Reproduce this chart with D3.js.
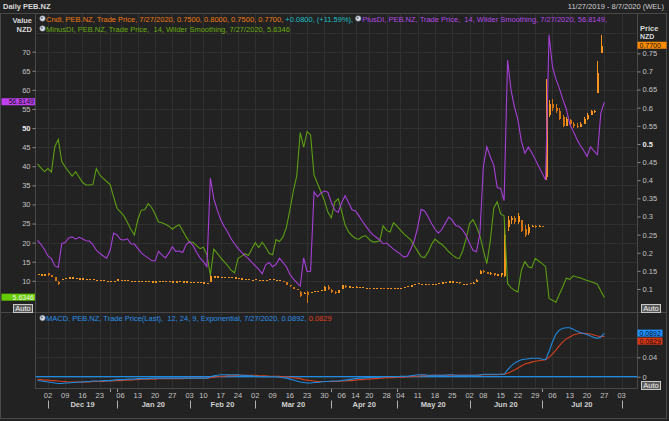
<!DOCTYPE html>
<html>
<head>
<meta charset="utf-8">
<script src="https://cdn.jsdelivr.net/npm/d3@7"></script>
<style>
  html, body { margin: 0; padding: 0; background: #222; }
  svg { display: block; font-family: "Liberation Sans", Arial, sans-serif; }
</style>
</head>
<body>
<svg id="chart" width="669" height="421"></svg>
<script>
// NZX trading calendar for the window shown
const firstDay = '2019-11-27'
const lastDay = '2020-08-07'
const holidays = ['2019-12-25', '2019-12-26', '2020-01-01', '2020-01-02', '2020-02-06',
  '2020-04-10', '2020-04-13', '2020-04-27', '2020-06-01']

const weekTicks = ['2019-12-02', '2019-12-09', '2019-12-16', '2019-12-23',
  '2020-01-06', '2020-01-13', '2020-01-20', '2020-01-27',
  '2020-02-03', '2020-02-10', '2020-02-17', '2020-02-24',
  '2020-03-02', '2020-03-09', '2020-03-16', '2020-03-23', '2020-03-30',
  '2020-04-06', '2020-04-14', '2020-04-20', '2020-04-28',
  '2020-05-04', '2020-05-11', '2020-05-18', '2020-05-25',
  '2020-06-02', '2020-06-08', '2020-06-15', '2020-06-22', '2020-06-29',
  '2020-07-06', '2020-07-13', '2020-07-20', '2020-07-27', '2020-08-03']
const unlabeledTicks = ['2019-12-30', '2020-01-03', '2020-04-01', '2020-05-01', '2020-07-01']
const monthStarts = ['2019-12-02', '2020-01-03', '2020-02-03', '2020-03-02', '2020-04-01',
  '2020-05-01', '2020-06-02', '2020-07-01', '2020-08-03']
const monthLabels = ['Dec 19', 'Jan 20', 'Feb 20', 'Mar 20', 'Apr 20', 'May 20', 'Jun 20', 'Jul 20']

const diTicks = [10, 15, 20, 25, 30, 35, 40, 45, 50, 55, 60, 65, 70]
const priceTicks = [0.1, 0.15, 0.2, 0.25, 0.3, 0.35, 0.4, 0.45, 0.5, 0.55, 0.6, 0.65, 0.7, 0.75]
const macdTicks = [0, 0.04, 0.08]
const macdLabelTicks = [0, 0.04]

// daily candles [open, high, low, close], one per trading day from 11/27/2019
const candles = [
  [.140, .142, .138, .141], [.140, .140, .140, .140], [.140, .141, .140, .140], [.145, .145, .137, .138], [.138, .139, .133, .134],
  [.133, .134, .122, .122], [.120, .122, .110, .114], [.126, .128, .126, .128], [.130, .130, .130, .130], [.132, .132, .132, .132],
  [.132, .132, .131, .132], [.131, .131, .131, .131], [.129, .129, .129, .129], [.129, .129, .128, .129], [.128, .128, .128, .128],
  [.128, .128, .127, .128], [.127, .127, .127, .127], [.125, .125, .125, .125], [.124, .124, .124, .124], [.124, .124, .123, .124],
  [.123, .123, .123, .123], [.123, .123, .123, .123], [.122, .122, .122, .122], [.122, .128, .122, .128], [.125, .125, .125, .125],
  [.124, .124, .124, .124], [.124, .124, .123, .124], [.123, .123, .123, .123], [.122, .122, .122, .122], [.122, .122, .121, .122],
  [.123, .123, .123, .123], [.122, .122, .122, .122], [.122, .122, .122, .122], [.121, .121, .121, .121], [.121, .122, .121, .121],
  [.122, .122, .122, .122], [.123, .123, .123, .123], [.122, .122, .122, .122], [.122, .122, .121, .122], [.121, .121, .121, .121],
  [.121, .121, .121, .121], [.122, .122, .122, .122], [.121, .121, .121, .121], [.121, .121, .120, .121], [.120, .120, .120, .120],
  [.120, .120, .120, .120], [.119, .119, .119, .119], [.119, .119, .118, .119], [.118, .118, .118, .118], [.117, .117, .117, .117],
  [.120, .139, .120, .137], [.135, .135, .135, .135], [.135, .135, .134, .135], [.134, .134, .134, .134], [.134, .134, .134, .134],
  [.133, .133, .133, .133], [.133, .133, .132, .133], [.132, .132, .132, .132], [.130, .130, .130, .130], [.129, .129, .129, .129],
  [.128, .128, .128, .128], [.127, .127, .127, .127], [.126, .126, .126, .126], [.124, .127, .124, .127], [.126, .126, .126, .126],
  [.126, .126, .125, .126], [.125, .125, .125, .125], [.127, .127, .127, .127], [.128, .128, .127, .128], [.126, .126, .126, .126],
  [.124, .124, .124, .124], [.123, .123, .118, .118], [.118, .118, .112, .112], [.112, .112, .106, .107], [.105, .105, .100, .100],
  [.100, .100, .096, .097], [.092, .094, .078, .080], [.086, .092, .085, .090], [.092, .094, .061, .083], [.090, .092, .089, .091],
  [.093, .094, .093, .094], [.094, .095, .094, .095], [.096, .097, .095, .097], [.095, .108, .095, .106], [.106, .110, .098, .100],
  [.098, .100, .089, .092], [.092, .094, .086, .088], [.089, .098, .089, .096], [.100, .111, .100, .110], [.108, .110, .104, .107],
  [.107, .107, .107, .107], [.106, .106, .106, .106], [.106, .107, .104, .106], [.106, .106, .106, .106], [.105, .105, .105, .105],
  [.104, .104, .104, .104], [.104, .104, .101, .102], [.103, .103, .103, .103], [.104, .104, .104, .104], [.103, .103, .103, .103],
  [.103, .104, .100, .101], [.103, .103, .103, .103], [.104, .104, .104, .104], [.103, .103, .103, .103], [.104, .104, .104, .104],
  [.103, .103, .103, .103], [.105, .105, .105, .105], [.108, .108, .108, .108], [.110, .110, .110, .110], [.111, .115, .111, .114],
  [.116, .116, .116, .116], [.115, .115, .115, .115], [.114, .114, .114, .114], [.113, .114, .111, .112], [.114, .114, .114, .114],
  [.115, .115, .115, .115], [.117, .117, .117, .117], [.118, .118, .118, .118], [.120, .120, .120, .120], [.121, .121, .121, .121],
  [.121, .121, .121, .121], [.120, .120, .120, .120], [.119, .119, .115, .116], [.115, .115, .115, .115], [.112, .115, .111, .114],
  [.116, .116, .113, .114], [.115, .118, .114, .117], [.118, .128, .118, .126], [.140, .153, .140, .150], [.150, .152, .145, .147],
  [.146, .147, .140, .142], [.140, .146, .139, .144], [.144, .145, .136, .138], [.140, .142, .138, .140], [.138, .145, .133, .143],
  [.135, .290, .133, .250], [.270, .300, .260, .290], [.290, .300, .280, .295], [.295, .300, .280, .285], [.285, .310, .280, .300],
  [.290, .290, .257, .260], [.265, .276, .244, .250], [.255, .280, .250, .270], [.272, .277, .270, .275], [.275, .276, .268, .270],
  [.272, .276, .270, .274], [.273, .275, .270, .272], [.410, .680, .400, .630], [.580, .620, .575, .610], [.610, .625, .590, .600],
  [.600, .610, .585, .590], [.590, .600, .566, .570], [.575, .580, .547, .550], [.550, .575, .550, .570], [.565, .570, .550, .555],
  [.555, .560, .545, .550], [.550, .558, .545, .548], [.548, .560, .547, .555], [.555, .575, .555, .570], [.570, .585, .566, .580],
  [.580, .594, .580, .590], [.590, .594, .585, .592], [.640, .730, .640, .695], [.750, .800, .750, .770],
]

const plusDI = [
  20.6, 19.5, 18.2, 16.5, 15.8, 13.9, 13.5, 19.8, 20.0, 21.2,
  21.5, 20.9, 21.4, 21.0, 20.5, 20.4, 19.5, 18.0, 17.2, 16.5,
  15.9, 18.0, 22.5, 22.0, 20.8, 20.7, 21.0, 19.7, 19.6, 18.5,
  17.3, 16.6, 16.0, 15.3, 15.2, 17.7, 16.7, 16.0, 17.3, 18.9,
  17.7, 17.8, 17.4, 19.5, 20.2, 19.2, 17.5, 16.0, 15.0, 13.7,
  36.9, 31.5, 28.5, 26.0, 24.2, 22.8, 21.0, 19.7, 18.5, 17.5,
  16.6, 15.8, 14.8, 13.9, 13.0, 11.8, 14.2, 14.8, 13.7, 14.3,
  15.9, 14.8, 13.7, 11.7, 10.5, 9.5, 8.6, 16.0, 12.4, 12.5,
  33.3, 32.0, 33.0, 33.5, 33.2, 30.5, 28.5, 27.9, 30.5, 32.3,
  30.5, 28.6, 28.3, 27.0, 25.6, 24.3, 23.1, 22.1, 21.4, 20.7,
  19.7, 19.9, 19.1, 18.3, 17.6, 17.0, 16.2, 16.5, 18.3, 20.5,
  24.0, 28.7, 28.3, 26.8, 25.0, 23.5, 22.5, 23.5, 25.1, 26.7,
  25.8, 24.5, 24.2, 23.3, 21.9, 19.8, 18.0, 17.6, 22.4, 40.0,
  45.1, 42.5, 40.3, 34.4, 34.2, 31.0, 67.8, 60.0, 55.5, 52.2,
  46.5, 43.4, 45.0, 43.6, 41.8, 40.0, 38.2, 36.4, 74.4, 66.0,
  62.8, 60.4, 57.5, 55.0, 51.0, 49.2, 47.2, 45.5, 44.2, 42.6,
  45.1, 44.0, 43.0, 54.0, 56.8149,
]

const minusDI = [
  40.6, 39.5, 38.6, 39.4, 38.5, 45.2, 47.0, 41.2, 39.8, 38.6,
  37.4, 38.6, 37.2, 35.8, 35.1, 35.1, 35.2, 39.4, 37.7, 36.8,
  36.0, 35.2, 32.0, 29.0, 28.0, 27.0, 25.3, 23.5, 22.0, 26.0,
  28.5, 28.6, 30.2, 29.2, 27.5, 25.4, 25.2, 24.8, 24.3, 23.5,
  24.2, 24.7, 23.1, 21.5, 20.1, 20.1, 19.2, 18.4, 18.8, 16.8,
  11.5, 18.3, 17.2, 16.0, 15.0, 14.0, 12.8, 12.1, 15.9, 16.4,
  17.1, 16.6, 18.3, 20.0, 18.7, 20.1, 18.8, 17.2, 16.8, 20.8,
  20.3, 21.5, 24.0, 28.5, 33.5, 37.5, 48.8, 45.0, 49.1, 48.2,
  37.7, 35.5, 33.3, 31.0, 28.0, 26.5, 30.6, 31.5, 28.2, 24.6,
  22.8, 21.8, 21.1, 20.9, 21.6, 21.8, 20.8, 20.2, 20.2, 20.5,
  24.4, 23.2, 22.8, 25.2, 24.3, 23.3, 22.3, 21.5, 20.7, 19.2,
  17.7, 16.3, 16.1, 17.5, 19.5, 20.9, 20.1, 19.5, 18.6, 17.6,
  16.8, 16.1, 15.8, 17.8, 21.0, 25.0, 26.0, 24.2, 21.8, 18.0,
  14.5, 20.5, 29.0, 30.7, 27.5, 27.0, 9.3, 8.2, 7.5, 7.1,
  12.8, 15.0, 13.7, 13.4, 15.9, 15.2, 14.5, 13.7, 5.4, 4.9,
  4.4, 6.5, 8.5, 10.7, 10.4, 11.3, 11.0, 10.8, 10.4, 10.1,
  9.8, 9.5, 9.1, 7.3, 5.6346,
]

const macdLine = [
  -0.008, -0.009, -0.010, -0.011, -0.012, -0.013, -0.014, -0.014, -0.013, -0.013,
  -0.012, -0.012, -0.011, -0.011, -0.010, -0.010, -0.009, -0.009, -0.009, -0.008,
  -0.008, -0.008, -0.007, -0.006, -0.006, -0.006, -0.005, -0.005, -0.005, -0.004,
  -0.004, -0.004, -0.004, -0.003, -0.003, -0.003, -0.003, -0.003, -0.003, -0.003,
  -0.003, -0.003, -0.003, -0.003, -0.003, -0.003, -0.003, -0.003, -0.003, -0.003,
  0.000, 0.002, 0.003, 0.004, 0.004, 0.004, 0.004, 0.004, 0.004, 0.003,
  0.003, 0.002, 0.002, 0.001, 0.001, 0.000, 0.000, 0.000, 0.000, 0.000,
  -0.001, -0.002, -0.003, -0.005, -0.007, -0.009, -0.011, -0.012, -0.013, -0.013,
  -0.012, -0.012, -0.011, -0.010, -0.010, -0.009, -0.009, -0.009, -0.008, -0.007,
  -0.006, -0.005, -0.004, -0.003, -0.003, -0.002, -0.002, -0.001, -0.001, -0.001,
  0.000, 0.000, 0.000, 0.000, 0.000, 0.001, 0.001, 0.001, 0.002, 0.003,
  0.004, 0.004, 0.004, 0.003, 0.003, 0.003, 0.003, 0.003, 0.003, 0.004,
  0.004, 0.003, 0.003, 0.003, 0.003, 0.003, 0.003, 0.003, 0.004, 0.005,
  0.005, 0.005, 0.005, 0.005, 0.005, 0.005, 0.014, 0.022, 0.028, 0.032,
  0.035, 0.036, 0.037, 0.038, 0.038, 0.038, 0.036, 0.035, 0.052, 0.072,
  0.088, 0.096, 0.100, 0.101, 0.101, 0.098, 0.094, 0.091, 0.089, 0.087,
  0.084, 0.081, 0.079, 0.082, 0.0892,
]

const signalLine = [
  -0.006, -0.006, -0.007, -0.007, -0.008, -0.008, -0.009, -0.010, -0.010, -0.011,
  -0.011, -0.011, -0.011, -0.011, -0.011, -0.011, -0.010, -0.010, -0.010, -0.010,
  -0.009, -0.009, -0.009, -0.008, -0.008, -0.007, -0.007, -0.007, -0.006, -0.006,
  -0.005, -0.005, -0.005, -0.005, -0.005, -0.004, -0.004, -0.004, -0.004, -0.004,
  -0.004, -0.004, -0.004, -0.003, -0.003, -0.003, -0.003, -0.003, -0.003, -0.003,
  -0.002, -0.001, 0.000, 0.001, 0.001, 0.002, 0.002, 0.002, 0.003, 0.003,
  0.003, 0.003, 0.003, 0.003, 0.002, 0.002, 0.002, 0.001, 0.001, 0.001,
  0.001, 0.000, 0.000, -0.001, -0.002, -0.003, -0.004, -0.006, -0.007, -0.008,
  -0.009, -0.010, -0.010, -0.010, -0.010, -0.010, -0.010, -0.010, -0.009, -0.009,
  -0.008, -0.008, -0.007, -0.006, -0.006, -0.005, -0.005, -0.004, -0.004, -0.003,
  -0.003, -0.002, -0.002, -0.002, -0.001, -0.001, -0.001, 0.000, 0.000, 0.001,
  0.001, 0.002, 0.002, 0.002, 0.003, 0.003, 0.003, 0.003, 0.003, 0.003,
  0.003, 0.003, 0.003, 0.003, 0.003, 0.003, 0.003, 0.003, 0.003, 0.004,
  0.004, 0.004, 0.004, 0.004, 0.005, 0.005, 0.007, 0.010, 0.014, 0.018,
  0.022, 0.026, 0.028, 0.030, 0.032, 0.033, 0.034, 0.035, 0.040, 0.047,
  0.055, 0.064, 0.072, 0.078, 0.082, 0.086, 0.088, 0.089, 0.0895, 0.089,
  0.088, 0.086, 0.084, 0.083, 0.0829,
]

const colors = {
  bg: '#222222', grid: '#303030', frame: '#484848', text: '#c4c4c4',
  orange: '#f7941d', purple: '#a63fd8', green: '#5c9e12',
  blue: '#1f8ae0', red: '#d2401e', cyan: '#1cc0c8',
}

const fmt = d3.utcFormat('%Y-%m-%d')
const days = d3.utcDay.range(new Date(firstDay), d3.utcDay.offset(new Date(lastDay), 1))
  .filter((d) => d.getUTCDay() % 6 !== 0 && !holidays.includes(fmt(d)))
  .map(fmt)
const dayIdx = (s) => days.indexOf(s)

const plot = { left: 35.5, right: 637.5 }
const main = { top: 14, bottom: 312.5 }
const macdPanel = { top: 313, bottom: 388.5 }

const x = d3.scaleLinear().domain([-0.6, days.length - 0.4]).range([plot.left, plot.right])
const yDI = d3.scaleLinear().domain([10, 70]).range([280.8, 51.7])
const yPrice = d3.scaleLinear().domain([0.1, 0.75]).range([289, 53.3])
const yMacd = d3.scaleLinear().domain([0, 0.04]).range([376.7, 357.3])

const svg = d3.select('#chart')
svg.append('rect').attr('width', 669).attr('height', 421).attr('fill', colors.bg)

// clip regions
const defs = svg.append('defs')
defs.append('clipPath').attr('id', 'clip-main').append('rect')
  .attr('x', plot.left).attr('y', main.top).attr('width', plot.right - plot.left).attr('height', main.bottom - main.top)
defs.append('clipPath').attr('id', 'clip-macd').append('rect')
  .attr('x', plot.left).attr('y', macdPanel.top).attr('width', plot.right - plot.left).attr('height', macdPanel.bottom - macdPanel.top)

// grids
const gridX = weekTicks.concat(['2019-12-30']).map(dayIdx)
const grid = svg.append('g').attr('stroke', colors.grid).attr('shape-rendering', 'crispEdges')
grid.selectAll('.vg-main')
  .data(gridX)
  .enter()
  .append('line')
  .attr('x1', (d) => Math.round(x(d)) + 0.5).attr('x2', (d) => Math.round(x(d)) + 0.5)
  .attr('y1', main.top).attr('y2', main.bottom)
grid.selectAll('.vg-macd')
  .data(gridX)
  .enter()
  .append('line')
  .attr('x1', (d) => Math.round(x(d)) + 0.5).attr('x2', (d) => Math.round(x(d)) + 0.5)
  .attr('y1', macdPanel.top).attr('y2', macdPanel.bottom)
grid.selectAll('.hg-main')
  .data(diTicks.concat([75]))
  .enter()
  .append('line')
  .attr('x1', plot.left).attr('x2', plot.right)
  .attr('y1', (d) => Math.round(yDI(d)) + 0.5).attr('y2', (d) => Math.round(yDI(d)) + 0.5)
grid.selectAll('.hg-macd')
  .data(macdTicks)
  .enter()
  .append('line')
  .attr('x1', plot.left).attr('x2', plot.right)
  .attr('y1', (d) => Math.round(yMacd(d)) + 0.5).attr('y2', (d) => Math.round(yMacd(d)) + 0.5)

// frames
const frame = svg.append('g').attr('stroke', colors.frame).attr('fill', 'none').attr('shape-rendering', 'crispEdges')
frame.append('rect').attr('x', 0.5).attr('y', 13.5).attr('width', 666).attr('height', 405)
frame.append('line').attr('x1', 0).attr('x2', 667).attr('y1', 312.5).attr('y2', 312.5)
frame.append('line').attr('x1', plot.left).attr('x2', plot.right).attr('y1', 388.5).attr('y2', 388.5)
frame.append('line').attr('x1', plot.left).attr('x2', plot.left).attr('y1', 13.5).attr('y2', 388.5)
frame.append('line').attr('x1', plot.right).attr('x2', plot.right).attr('y1', 13.5).attr('y2', 388.5)

// candles
const candleG = svg.append('g').attr('clip-path', 'url(#clip-main)').attr('shape-rendering', 'crispEdges')
const bars = candleG.selectAll('.candle')
  .data(candles)
  .enter()
  .append('g')
  .attr('class', 'candle')
bars.append('line')
  .attr('x1', (d, i) => Math.round(x(i)) + 0.5).attr('x2', (d, i) => Math.round(x(i)) + 0.5)
  .attr('y1', (d) => yPrice(d[1])).attr('y2', (d) => yPrice(d[2]))
  .attr('stroke', (d) => d[3] >= d[0] ? colors.orange : '#d47512')
bars.append('rect')
  .attr('x', (d, i) => Math.round(x(i)) - 0.5)
  .attr('width', 2.5)
  .attr('y', (d) => yPrice(Math.max(d[0], d[3])))
  .attr('height', (d) => Math.max(1.2, Math.abs(yPrice(d[0]) - yPrice(d[3]))))
  .attr('fill', (d) => d[3] >= d[0] ? colors.orange : '#d47512')

// DI lines
const diLine = d3.line().x((d, i) => x(i)).y((d) => yDI(d))
const lines = svg.append('g').attr('clip-path', 'url(#clip-main)').attr('fill', 'none').attr('stroke-width', 1.1)
lines.append('path').attr('d', diLine(minusDI)).attr('stroke', colors.green)
lines.append('path').attr('d', diLine(plusDI)).attr('stroke', colors.purple)

// MACD
const mLine = d3.line().x((d, i) => x(i)).y((d) => yMacd(d))
const macdG = svg.append('g').attr('clip-path', 'url(#clip-macd)').attr('fill', 'none').attr('stroke-width', 1.1)
macdG.append('line')
  .attr('x1', plot.left).attr('x2', plot.right)
  .attr('y1', yMacd(0)).attr('y2', yMacd(0))
  .attr('stroke', colors.blue).attr('stroke-width', 1.2)
macdG.append('path').attr('d', mLine(signalLine)).attr('stroke', colors.red)
macdG.append('path').attr('d', mLine(macdLine)).attr('stroke', colors.blue)

// axes
const styleAxis = (g) => {
  g.select('.domain').remove()
  g.selectAll('line').attr('stroke', '#8a8a8a')
  g.selectAll('text').attr('fill', colors.text).attr('font-size', '7.5px')
}
svg.append('g')
  .attr('transform', `translate(${plot.left},0)`)
  .call(d3.axisLeft(yDI).tickValues(diTicks).tickSize(3).tickPadding(2))
  .call(styleAxis)
  .selectAll('text')
  .attr('font-weight', (d) => d === 50 ? 'bold' : null)
  .attr('fill', (d) => d === 50 ? '#eee' : colors.text)
svg.append('g')
  .attr('transform', `translate(${plot.right},0)`)
  .call(d3.axisRight(yPrice).tickValues(priceTicks).tickSize(3).tickPadding(2).tickFormat((d) => String(+d.toFixed(2))))
  .call(styleAxis)
  .selectAll('text')
  .attr('font-weight', (d) => d === 0.5 ? 'bold' : null)
  .attr('fill', (d) => d === 0.5 ? '#eee' : colors.text)
svg.append('g')
  .attr('transform', `translate(${plot.right},0)`)
  .call(d3.axisRight(yMacd).tickValues(macdLabelTicks).tickSize(3).tickPadding(2).tickFormat((d) => String(+d.toFixed(2))))
  .call(styleAxis)

// x axis labels
const xAxis = svg.append('g').attr('font-size', '7.5px').attr('fill', colors.text)
xAxis.selectAll('.wk')
  .data(weekTicks)
  .enter()
  .append('text')
  .attr('x', (d) => x(dayIdx(d)))
  .attr('y', 398)
  .attr('text-anchor', 'middle')
  .text((d) => d.slice(8))
xAxis.selectAll('.minor')
  .data(unlabeledTicks)
  .enter()
  .append('line')
  .attr('x1', (d) => Math.round(x(dayIdx(d))) + 0.5).attr('x2', (d) => Math.round(x(dayIdx(d))) + 0.5)
  .attr('y1', 389).attr('y2', 392)
  .attr('stroke', '#9a9a9a')
xAxis.selectAll('.sep')
  .data(monthStarts)
  .enter()
  .append('line')
  .attr('x1', (d) => Math.round(x(dayIdx(d))) + 0.5).attr('x2', (d) => Math.round(x(dayIdx(d))) + 0.5)
  .attr('y1', 400.5).attr('y2', 408.5)
  .attr('stroke', '#b0b0b0')
xAxis.selectAll('.month')
  .data(monthLabels)
  .enter()
  .append('text')
  .attr('x', (d, i) => (x(dayIdx(monthStarts[i])) + x(dayIdx(monthStarts[i + 1]))) / 2)
  .attr('y', 407)
  .attr('text-anchor', 'middle')
  .attr('font-weight', 'bold')
  .attr('fill', '#d0d0d0')
  .text((d) => d)

// value tags on the axes
const tag = (xPos, yPos, w, bg, fg, label, anchorRight) => {
  const g = svg.append('g')
  g.append('rect').attr('x', xPos).attr('y', yPos - 3.8).attr('width', w).attr('height', 7).attr('fill', bg)
  g.append('text')
    .attr('x', anchorRight ? xPos + w - 1 : xPos + 2)
    .attr('y', yPos + 2.4)
    .attr('text-anchor', anchorRight ? 'end' : 'start')
    .attr('font-size', '7px')
    .attr('fill', fg)
    .text(label)
}
tag(1.5, yDI(plusDI[plusDI.length - 1]), 33.5, '#c040f0', '#111', '56.8149', true)
tag(1.5, yDI(minusDI[minusDI.length - 1]), 33.5, '#66cc00', '#f4f4f4', '5.6346', true)
tag(637.5, yPrice(candles[candles.length - 1][3]) - 0.5, 29, '#ff8c00', '#111', '0.7700', false)
const macdTagY = yMacd(macdLine[macdLine.length - 1])
tag(637.5, macdTagY, 25, '#1e90ff', '#0a1020', '0.0892', false)
tag(637.5, Math.max(yMacd(signalLine[signalLine.length - 1]), macdTagY + 8), 25, '#d83818', '#1a0a08', '0.0829', false)

// Auto buttons
const autoBtn = (xPos, yPos) => {
  svg.append('rect').attr('x', xPos + 0.5).attr('y', yPos + 0.5).attr('width', 19).attr('height', 8)
    .attr('fill', '#5a5a5a').attr('stroke', '#c8c8c8').attr('shape-rendering', 'crispEdges')
  svg.append('text').attr('x', xPos + 10).attr('y', yPos + 7).attr('text-anchor', 'middle')
    .attr('font-size', '7.5px').attr('fill', '#f0f0f0').text('Auto')
}
autoBtn(13, 304)
autoBtn(641, 304)
autoBtn(641, 380.5)

// header and axis titles
const hdr = svg.append('g').attr('font-size', '7.5px')
hdr.append('text').attr('x', 3).attr('y', 9).attr('font-weight', 'bold').attr('fill', '#d8d8d8').text('Daily PEB.NZ')
hdr.append('text').attr('x', 664).attr('y', 9).attr('text-anchor', 'end').attr('fill', '#cfcfcf').text('11/27/2019 - 8/7/2020 (WEL)')
hdr.append('text').attr('x', 32).attr('y', 23).attr('text-anchor', 'end').attr('font-weight', 'bold').attr('fill', '#d8d8d8').text('Value')
hdr.append('text').attr('x', 32).attr('y', 32).attr('text-anchor', 'end').attr('font-weight', 'bold').attr('fill', '#d8d8d8').text('NZD')
hdr.append('text').attr('x', 640).attr('y', 31).attr('font-weight', 'bold').attr('fill', '#d8d8d8').text('Price')
hdr.append('text').attr('x', 640).attr('y', 39.4).attr('font-weight', 'bold').attr('font-size', '7px').attr('fill', '#d8d8d8').text('NZD')

// legends
const icon = (cx, cy) => {
  svg.append('circle').attr('cx', cx).attr('cy', cy).attr('r', 2.7).attr('fill', '#d6dde6').attr('stroke', '#7d8896').attr('stroke-width', 0.6)
  svg.append('circle').attr('cx', cx - 0.6).attr('cy', cy - 0.6).attr('r', 0.9).attr('fill', '#56606c')
}
const legendLine = (xPos, yPos, parts) => {
  const t = svg.append('text').attr('x', xPos).attr('y', yPos).attr('font-size', '7.5px').attr('xml:space', 'preserve')
  parts.forEach((p) => t.append('tspan').attr('fill', p[1]).text(p[0]))
  return t
}
icon(42.5, 18.5)
const l1 = legendLine(46, 21.5, [
  ['Cndl, PEB.NZ, Trade Price, 7/27/2020, 0.7500, 0.8000, 0.7500, 0.7700, ', '#f07a12'],
  ['+0.0800, (+11.59%), ', colors.cyan],
])
const l1w = l1.node().getComputedTextLength()
icon(46 + l1w + 3, 18.5)
legendLine(46 + l1w + 7, 21.5, [['PlusDI, PEB.NZ, Trade Price,  14, Wilder Smoothing, 7/27/2020, 56.8149,', '#b44ae8']])
icon(42.5, 28.5)
legendLine(46, 31.5, [['MinusDI, PEB.NZ, Trade Price,  14, Wilder Smoothing, 7/27/2020, 5.6346', '#6aac10']])
icon(42.5, 318)
legendLine(46, 321, [
  ['MACD, PEB.NZ, Trade Price(Last),  12, 24, 9, Exponential, 7/27/2020, 0.0892, ', '#2a90e8'],
  ['0.0829', '#e04020'],
])
</script>
</body>
</html>
